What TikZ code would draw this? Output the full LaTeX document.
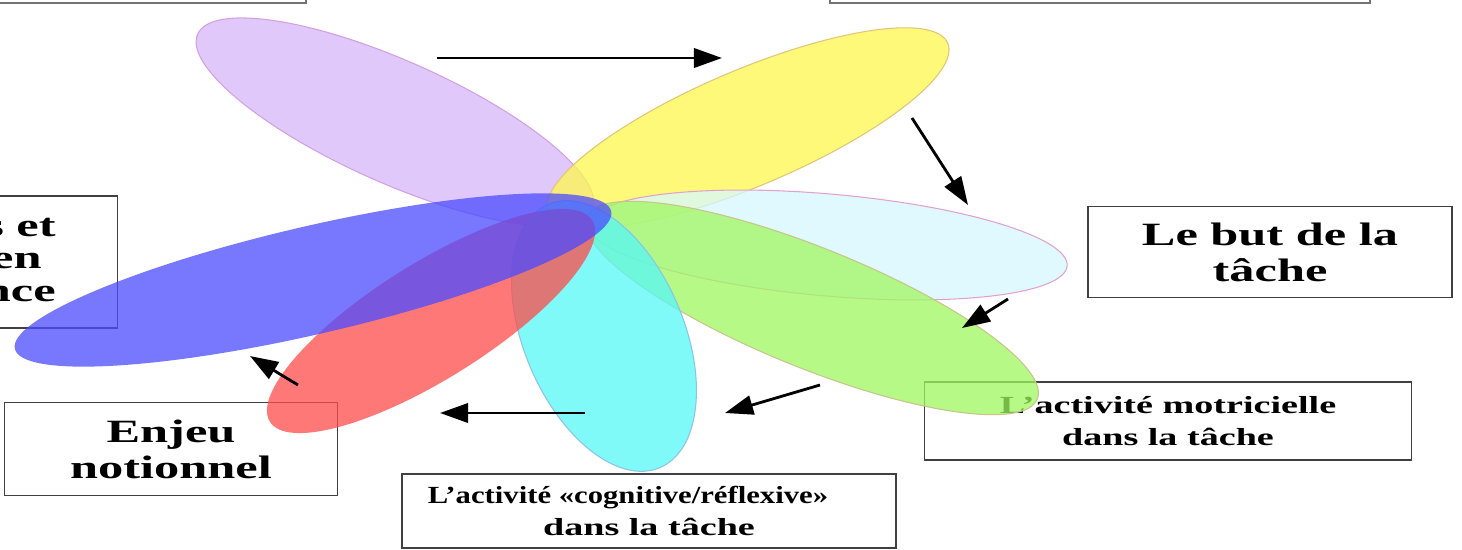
\documentclass[tikz,border=0pt]{standalone}
\usepackage{graphicx}
\usepackage{fontspec}
\setmainfont{Liberation Serif}[FakeStretch=1.55]
\usetikzlibrary{arrows.meta,positioning}

\definecolor{lavpetal}{RGB}{216,182,249}
\definecolor{yelpetal}{RGB}{255,248,78}
\definecolor{icepetal}{RGB}{214,248,255}
\definecolor{grnpetal}{RGB}{160,247,96}
\definecolor{cyapetal}{RGB}{86,247,247}
\definecolor{redpetal}{RGB}{255,75,75}
\definecolor{blupetal}{RGB}{75,75,255}
\definecolor{lavedge}{RGB}{210,160,228}
\definecolor{yeledge}{RGB}{228,196,120}
\definecolor{iceedge}{RGB}{228,160,205}
\definecolor{grnedge}{RGB}{200,196,140}
\definecolor{cyaedge}{RGB}{140,196,230}

\begin{document}
\begin{tikzpicture}[
  x=0.02cm, y=-0.02cm,
  petal/.style 2 args={fill=#1, fill opacity=0.75, draw=#2, line width=0.6pt},
  bigtext/.style={align=center, inner sep=0pt, font=\bfseries\fontsize{18.5}{20.5}\selectfont},
  labelbox/.style={bigtext, draw=black!75, line width=1pt},
  smallbox/.style={labelbox, font=\bfseries\fontsize{14}{18}\selectfont},
  topbox/.style={draw=black!55, line width=1.6pt},
  arrow/.style={-{Triangle[length=16pt,width=11pt]}, line width=1.6pt}
]
\useasboundingbox (0,0) rectangle (1462,550);
\clip (0,0) rectangle (1462,550);
\fill[white] (0,0) rectangle (1462,550);

% cadres
\node[topbox, minimum width=6.32cm, minimum height=1.72cm] (topleft) at (148,-40) {};
\node[topbox, minimum width=10.8cm, minimum height=1.72cm] (topright) at (1100,-40) {};
\node[labelbox, minimum width=6.74cm, minimum height=2.64cm] (values) at (-51,262) {};
\node[bigtext, anchor=east, align=right, font=\bfseries\fontsize{18.5}{18.7}\selectfont]
  (valuestext) at (56,260) {s et\\en\kern8pt\\nce};
\node[labelbox, minimum width=7.28cm, minimum height=1.82cm] (goal) at (1270,252) {Le but de la\\tâche};
\node[smallbox, minimum width=9.74cm, minimum height=1.56cm] (motor) at (1168,421) {L’activité motricielle\\dans la tâche};
\node[smallbox, minimum width=9.88cm, minimum height=1.48cm] (cognitive) at (649,511)
  {\scalebox{0.805}[1]{L’activité «cognitive/réflexive»}\hspace*{24pt}\\dans la tâche};
\node[labelbox, minimum width=6.66cm, minimum height=1.86cm] (stake) at (171,449) {Enjeu\\notionnel};

% petales
\draw[petal={lavpetal}{lavedge}] (395,122) circle [x radius=216, y radius=61, rotate=-24];
\draw[petal={yelpetal}{yeledge}] (748,128) circle [x radius=217, y radius=58, rotate=23];
\draw[petal={icepetal}{iceedge}] (828,245) circle [x radius=240, y radius=51, rotate=-5];
\draw[petal={grnpetal}{grnedge}] (812,308) circle [x radius=243, y radius=60, rotate=-22];
\draw[petal={cyapetal}{cyaedge}] (604,336) circle [x radius=143, y radius=80, rotate=-67];
\draw[petal={redpetal}{redpetal}, draw=none] (431,321) circle [x radius=190, y radius=58, rotate=32];
\draw[petal={blupetal}{blupetal}, draw=none] (313,280) circle [x radius=306, y radius=54, rotate=13];

% fleches
\coordinate (a1) at (437,58);   \coordinate (a2) at (722,58);
\coordinate (b1) at (912,118);  \coordinate (b2) at (968,205);
\coordinate (c1) at (1008,299); \coordinate (c2) at (962,328);
\coordinate (d1) at (820,385);  \coordinate (d2) at (725,413);
\coordinate (e1) at (585,413);  \coordinate (e2) at (440,413);
\coordinate (f1) at (298,385);  \coordinate (f2) at (250,356);
\draw[arrow] (a1) -- (a2);
\draw[arrow] (b1) -- (b2);
\draw[arrow] (c1) -- (c2);
\draw[arrow] (d1) -- (d2);
\draw[arrow] (e1) -- (e2);
\draw[arrow] (f1) -- (f2);
\end{tikzpicture}
\end{document}
